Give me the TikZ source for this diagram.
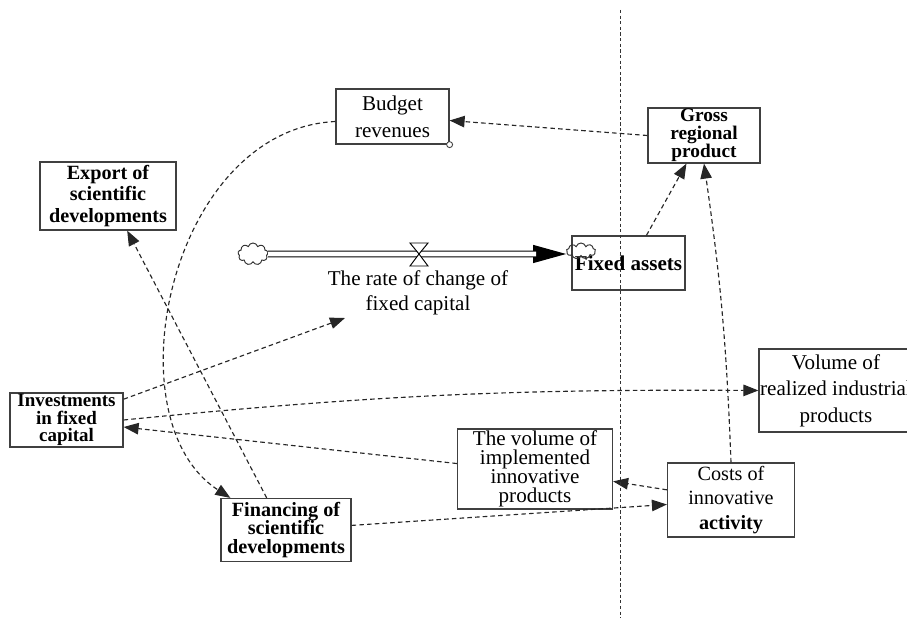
\documentclass[tikz,border=0pt]{standalone}
\usepackage{fontspec}
\setmainfont{Liberation Serif}
\usetikzlibrary{arrows.meta,shapes.symbols}
\begin{document}
\begin{tikzpicture}[x=0.02cm,y=-0.02cm,>={Triangle[length=0.3cm,width=0.23cm]},
	box/.style={draw=black!75,line width=0.7pt,fill=white,align=center,inner sep=0pt},
	link/.style={->,dash pattern=on 2.6pt off 1.8pt,line width=0.65pt,black!85},
	puff/.style={cloud,cloud puffs=9,cloud ignores aspect,draw=black!80,line width=0.55pt,inner sep=0pt}]
	\def\fsz#1#2{\fontsize{#1}{#2}\selectfont\lineskiplimit=-\maxdimen}
	\path[use as bounding box,clip] (0,0) rectangle (907,618);
	\node[box,minimum width=2.26cm,minimum height=1.1cm,font=\fsz{12}{15.4}] (budget) at (392.5,116.5) {Budget\\revenues};
	\node[box,minimum width=2.24cm,minimum height=1.1cm,font=\bfseries\fsz{11}{10.2}] (grp) at (704,135.5) {Gross\\regional\\product};
	\node[box,minimum width=2.72cm,minimum height=1.36cm,font=\bfseries\fsz{11.5}{12}] (export) at (108,196) {Export of\\scientific\\developments};
	\node[box,minimum width=2.26cm,minimum height=1.08cm,font=\bfseries\fsz{12}{14}] (fixed) at (628.5,263) {Fixed assets};
	\node[box,minimum width=2.26cm,minimum height=1.08cm,font=\bfseries\fsz{10.8}{10}] (invest) at (66.5,420) {Investments\\in fixed\\capital};
	\node[box,minimum width=2.6cm,minimum height=1.26cm,font=\bfseries\fsz{11.5}{10.7}] (financing) at (286,530) {Financing of\\scientific\\developments};
	\node[box,minimum width=3.08cm,minimum height=1.66cm,font=\fsz{12}{15}] (realized) at (836,390.5) {Volume of\\realized industrial\\products};
	\node[box,minimum width=3.1cm,minimum height=1.6cm,font=\fsz{12}{10.7}] (implemented) at (535,469) {The volume of\\implemented\\innovative\\products};
	\node[box,minimum width=2.54cm,minimum height=1.48cm,font=\fsz{11.5}{13.7}] (costs) at (731,500) {Costs of\\innovative\\\textbf{activity}};
	\node[circle,draw=black!75,fill=white,inner sep=0pt,minimum size=0.12cm,line width=0.5pt] (tap) at (budget.south east) {};
	\node[align=center,font=\fsz{12}{14.4}] (rate) at (418,293) {The rate of change of\\fixed capital};
	\coordinate (ratein) at (345,318);
	\node[puff,minimum width=0.6cm,minimum height=0.44cm] (src) at (253,254) {};
	\node[puff,minimum width=0.58cm,minimum height=0.32cm] (sink) at (581,251) {};
	\coordinate (valve) at (419,254);
	\draw[-{Triangle[length=0.66cm,width=0.36cm]},line width=0.6pt] (src) -- (src -| sink.west);
	\draw[double=white,double distance=2.6pt,line width=0.6pt,shorten >=0.6cm] (src) -- (src -| sink.west);
	\draw[fill=white,line width=0.55pt] (valve) -- ++(-9,-11) -- ++(18,0) -- cycle (valve) -- ++(-9,12) -- ++(18,0) -- cycle;
	\draw[link] (grp.west) -- (budget.-4);
	\draw[link] (budget.185) .. controls +(-166,8) and +(-121,-78) .. (financing.150);
	\draw[link] (financing.121) -- (export.-61);
	\draw[link] (fixed.57) -- (grp.-122);
	\draw[link] (costs.north) to[bend right=3] (grp.south);
	\draw[link] (invest.20) -- (ratein);
	\draw[link] (invest.east) to[bend left=3] (realized.west);
	\draw[link] (implemented.176) -- (invest.-7);
	\draw[link] (costs.171) -- (implemented.-9);
	\draw[link] (financing.4) -- (costs.184);
	\draw[dash pattern=on 1.8pt off 1.4pt,line width=0.55pt,black!80] (620,10) -- (620,618);
\end{tikzpicture}
\end{document}
